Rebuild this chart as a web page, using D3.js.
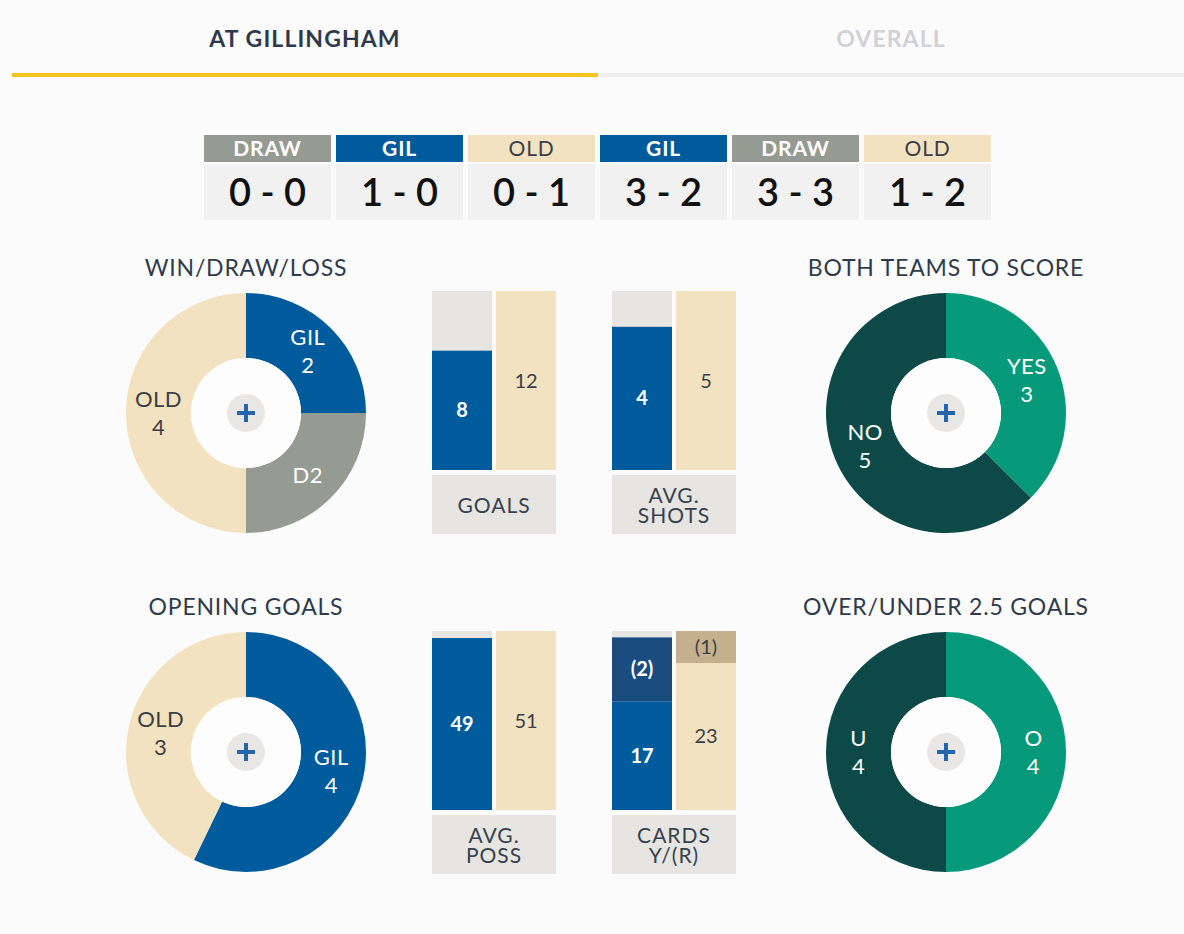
<!DOCTYPE html>
<html>
<head>
<meta charset="utf-8">
<script src="https://cdn.jsdelivr.net/npm/d3@7"></script>
<style>
  body { margin: 0; background: #fbfbfb; }
  svg { display: block; font-family: Lato, "Open Sans", sans-serif; }
</style>
</head>
<body>
<div id="chart"></div>
<script>
// data

var tabNames = ["AT GILLINGHAM", "OVERALL"]

var resultTeams = ["DRAW", "GIL", "OLD", "GIL", "DRAW", "OLD"]
var resultScores = ["0 - 0", "1 - 0", "0 - 1", "3 - 2", "3 - 3", "1 - 2"]

var wdlLabels = ["GIL", "D", "OLD"]
var wdlValues = [2, 2, 4]
var openLabels = ["GIL", "OLD"]
var openValues = [4, 3]
var bttsLabels = ["YES", "NO"]
var bttsValues = [3, 5]
var ouLabels = ["O", "U"]
var ouValues = [4, 4]

var goals = [8, 12]
var shots = [4, 5]
var poss = [49, 51]
var yellows = [17, 23]
var reds = [2, 1]
var redWeight = 5   // a red card counts as five yellows in the bar height

var colors = {
    GIL: "#005b9d", OLD: "#f3e2bf", DRAW: "#959b92", D: "#959b92",
    YES: "#069a7a", NO: "#0d4a47", O: "#069a7a", U: "#0d4a47",
    redGil: "#1b4c7f", redOld: "#c5b08e", empty: "#e6e5e1"
}
var lightText = { OLD: "#3a3f48" }

var w = 1184
var h = 934

var svg = d3.select("#chart")
    .append("svg")
    .attr("width", w)
    .attr("height", h)

svg.append("rect").attr("width", w).attr("height", h).attr("fill", "#fbfbfb")

// tabs
var tabX = d3.scaleBand().domain(tabNames).range([12, w])

svg.selectAll(".tab")
    .data(tabNames)
    .enter()
    .append("text")
    .attr("x", function(d){ return tabX(d) + tabX.bandwidth() / 2 })
    .attr("y", 47)
    .attr("text-anchor", "middle")
    .attr("font-size", 23)
    .attr("font-weight", 700)
    .attr("letter-spacing", 1.1)
    .attr("fill", function(d, i){ return i == 0 ? "#2e3a4b" : "#d2d1d8" })
    .text(function(d){ return d })

svg.append("rect").attr("x", 598).attr("y", 73).attr("width", w - 598).attr("height", 4).attr("fill", "#efefef")
svg.append("rect").attr("x", 12).attr("y", 73).attr("width", 586).attr("height", 4).attr("fill", "#f5c31b")

// last results
var resX = d3.scaleBand()
    .domain(d3.range(resultTeams.length))
    .range([204, 991])
    .paddingInner(5 / 132)

var res = svg.selectAll(".result")
    .data(resultTeams)
    .enter()
    .append("g")
    .attr("class", "result")
    .attr("transform", function(d, i){ return "translate(" + resX(i) + ",135)" })

res.append("rect")
    .attr("width", resX.bandwidth())
    .attr("height", 27)
    .attr("fill", function(d){ return colors[d] })
res.append("rect")
    .attr("y", 29)
    .attr("width", resX.bandwidth())
    .attr("height", 56)
    .attr("fill", "#f1f1f2")
res.append("text")
    .attr("x", resX.bandwidth() / 2)
    .attr("y", 21)
    .attr("text-anchor", "middle")
    .attr("font-size", 21)
    .attr("letter-spacing", 0.8)
    .attr("fill", function(d){ return lightText[d] || "#ffffff" })
    .style("font-weight", function(d){ return d == "OLD" ? 400 : 700 })
    .text(function(d){ return d })
res.append("text")
    .attr("x", resX.bandwidth() / 2)
    .attr("y", 71)
    .attr("text-anchor", "middle")
    .attr("font-size", 38)
    .attr("font-weight", 600)
    .attr("fill", "#111111")
    .text(function(d, i){ return resultScores[i] })

// donuts
function drawDonut(cx, cy, title, labels, values){
    var g = svg.append("g").attr("transform", "translate(" + cx + "," + cy + ")")

    g.append("text")
        .attr("y", -137)
        .attr("text-anchor", "middle")
        .attr("font-size", 23)
        .attr("letter-spacing", 0.8)
        .attr("fill", "#2f3b4c")
        .text(title)

    var pie = d3.pie().sort(null).value(function(d){ return d })
    var arc = d3.arc().innerRadius(55).outerRadius(120)
    var slices = pie(values)

    g.selectAll(".slice")
        .data(slices)
        .enter()
        .append("path")
        .attr("d", arc)
        .attr("fill", function(d, i){ return colors[labels[i]] })

    g.append("circle").attr("r", 55).attr("fill", "#fdfdfd")
    g.append("circle").attr("r", 19).attr("fill", "#e8e7e5")
    g.append("path")
        .attr("d", "M-9,0H9M0,-9V9")
        .attr("stroke", "#2467ad")
        .attr("stroke-width", 4)

    slices.forEach(function(s, i){
        var c = arc.centroid(s)
        var name = labels[i]
        var lines = name == "D" ? [name + s.value] : [name, s.value]
        var t = g.append("text")
            .attr("text-anchor", "middle")
            .attr("font-size", 22)
            .attr("letter-spacing", 0.5)
            .attr("fill", lightText[name] || "#ffffff")
        lines.forEach(function(l, j){
            t.append("tspan")
                .attr("x", c[0])
                .attr("y", c[1] + 8 + (j - (lines.length - 1) / 2) * 28)
                .text(l)
        })
    })
}

drawDonut(246, 413, "WIN/DRAW/LOSS", wdlLabels, wdlValues)
drawDonut(946, 413, "BOTH TEAMS TO SCORE", bttsLabels, bttsValues)
drawDonut(246, 752, "OPENING GOALS", openLabels, openValues)
drawDonut(946, 752, "OVER/UNDER 2.5 GOALS", ouLabels, ouValues)

// bars
var barH = 179
var barW = 60

function barText(g, x, y0, y1, txt, gil){
    g.append("text")
        .attr("x", x + barW / 2)
        .attr("y", (y0 + y1) / 2 + 7)
        .attr("text-anchor", "middle")
        .attr("font-size", 20)
        .attr("font-weight", gil ? 700 : 400)
        .attr("fill", gil ? "#ffffff" : "#3a3f48")
        .text(txt)
}

function drawBars(x0, y0, title, base, extra){
    var g = svg.append("g").attr("transform", "translate(" + x0 + "," + y0 + ")")
    var totals = base.map(function(v, i){ return v + (extra ? extra[i] * redWeight : 0) })
    var y = d3.scaleLinear().domain([0, d3.max(totals)]).range([barH, 0])
    var bx = d3.scaleBand().domain([0, 1]).range([0, barW * 2 + 4]).paddingInner(4 / 64)

    base.forEach(function(v, i){
        var x = bx(i)
        var gil = i == 0
        g.append("rect").attr("x", x).attr("width", barW).attr("height", barH).attr("fill", colors.empty)
        g.append("rect")
            .attr("x", x).attr("y", y(v)).attr("width", barW).attr("height", barH - y(v))
            .attr("fill", gil ? colors.GIL : colors.OLD)
        barText(g, x, y(v), barH, v, gil)
        if (extra) {
            var top = y(totals[i])
            g.append("rect")
                .attr("x", x).attr("y", top).attr("width", barW).attr("height", y(v) - top)
                .attr("fill", gil ? colors.redGil : colors.redOld)
            barText(g, x, top, y(v), "(" + extra[i] + ")", gil)
        }
    })

    g.append("rect").attr("y", barH + 5).attr("width", barW * 2 + 4).attr("height", 59).attr("fill", colors.empty)
    var lines = title.split("\n")
    var t = g.append("text")
        .attr("text-anchor", "middle")
        .attr("font-size", 21)
        .attr("letter-spacing", 1)
        .attr("fill", "#37414f")
    lines.forEach(function(l, j){
        t.append("tspan")
            .attr("x", barW + 2)
            .attr("y", barH + 5 + 29.5 + 8 + (j - (lines.length - 1) / 2) * 20)
            .text(l)
    })
}

drawBars(432, 291, "GOALS", goals)
drawBars(612, 291, "AVG.\nSHOTS", shots)
drawBars(432, 631, "AVG.\nPOSS", poss)
drawBars(612, 631, "CARDS\nY/(R)", yellows, reds)
</script>
</body>
</html>
